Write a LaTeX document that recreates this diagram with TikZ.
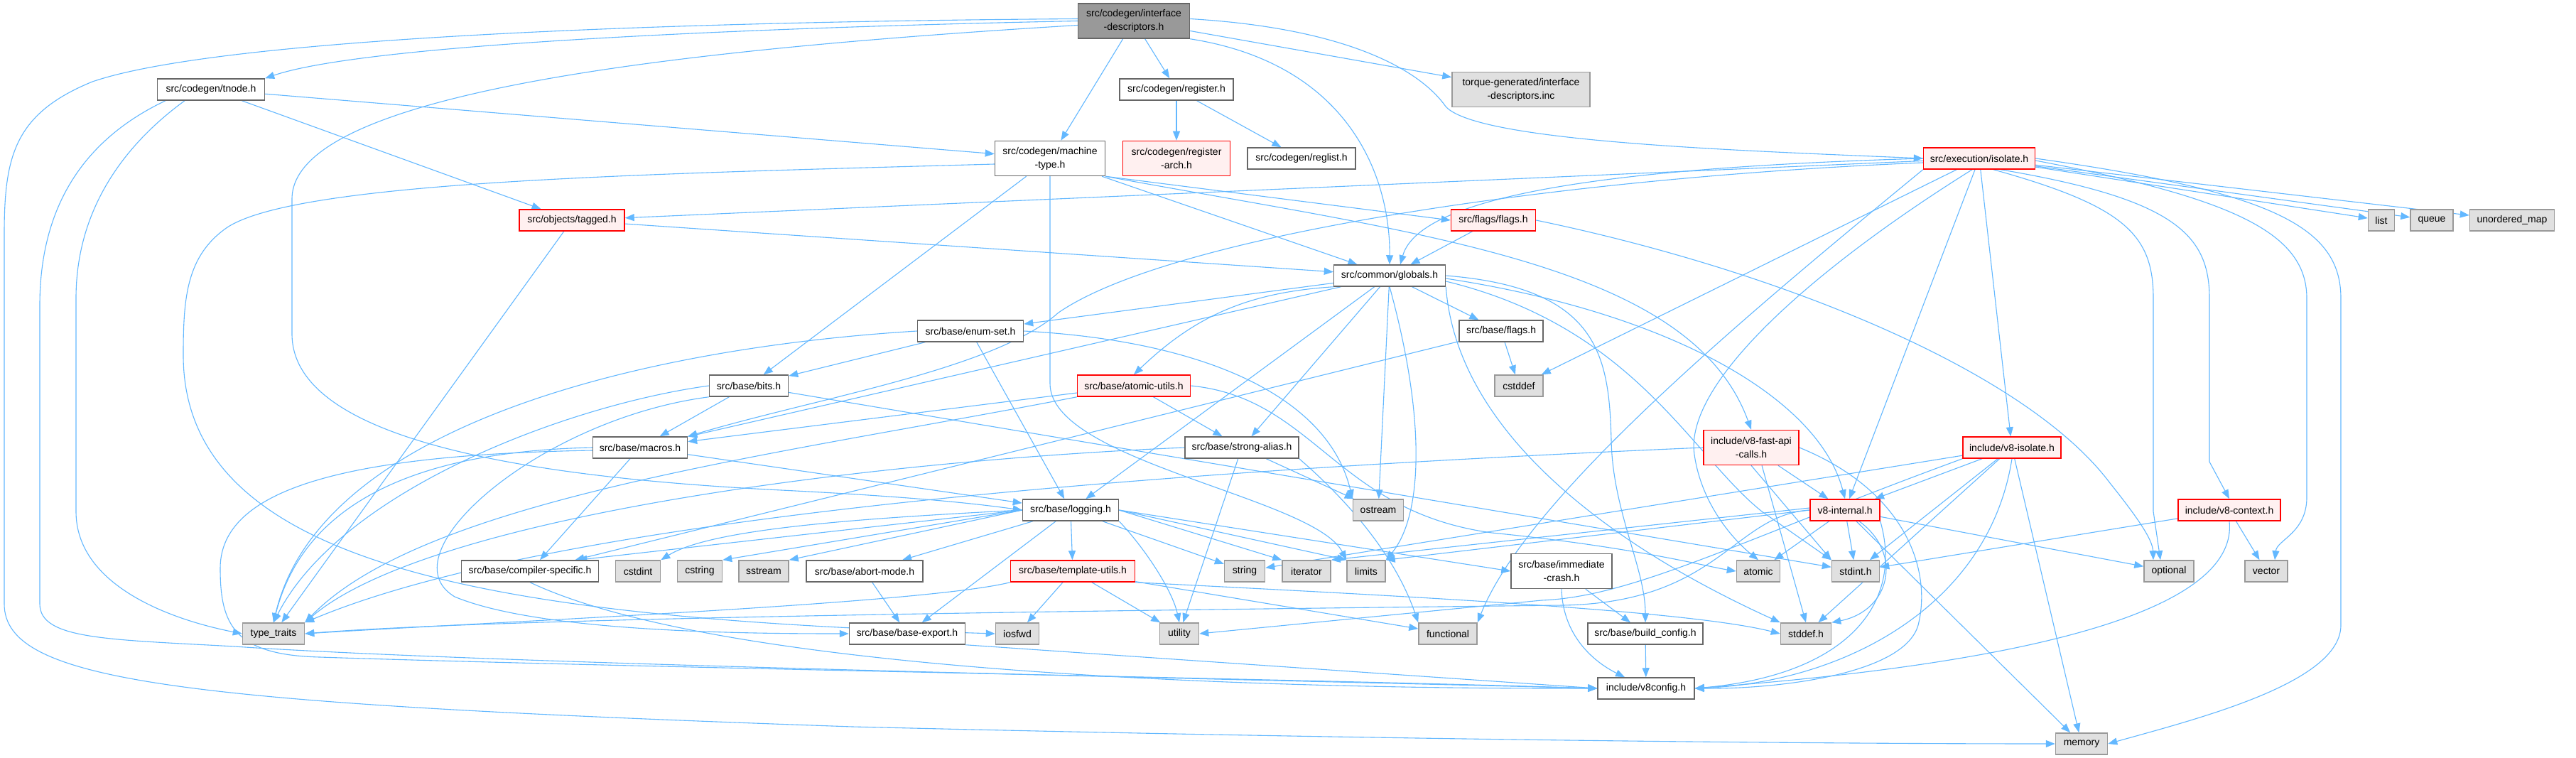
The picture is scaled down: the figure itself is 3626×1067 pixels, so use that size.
\documentclass[tikz,border=0pt]{standalone}
\usepackage{fontspec}
\setmainfont{Liberation Sans}
\usetikzlibrary{arrows.meta, backgrounds}
\definecolor{EdgeBlue}{RGB}{99,184,255}
\definecolor{RootGray}{RGB}{153,153,153}
\definecolor{BoxGray}{RGB}{102,102,102}
\definecolor{TruncFill}{RGB}{255,240,240}
\definecolor{TruncRed}{RGB}{255,0,0}
\definecolor{SysFill}{RGB}{224,224,224}
\definecolor{SysGray}{RGB}{153,153,153}
\tikzset{
  filebox/.style={rectangle, draw=BoxGray, fill=white, line width=1.5pt, inner sep=0pt,
    minimum height=30pt, align=center, font=\fontsize{14}{19}\selectfont},
  rootbox/.style={filebox, fill=RootGray},
  truncbox/.style={filebox, draw=TruncRed, fill=TruncFill},
  sysbox/.style={filebox, draw=SysGray, fill=SysFill},
  twoline/.style={minimum height=49pt},
  inc/.style={draw=EdgeBlue, line width=1.1pt, -{Triangle[length=13pt,width=10pt]}}
}

\begin{document}
\begin{tikzpicture}[x=1pt, y=-1pt]
\useasboundingbox (0,0) rectangle (3626,1067);

% files, row by row
\node[rootbox, twoline, minimum width=157] (root) at (1596,29.5) {src/codegen/interface\\-descriptors.h};
\node[filebox, minimum width=151] (tnode) at (297,126) {src/codegen/tnode.h};
\node[filebox, minimum width=160] (regh) at (1656,126) {src/codegen/register.h};
\node[sysbox, twoline, minimum width=194] (torque) at (2141,126) {torque-generated/interface\\-descriptors.inc};
\node[filebox, twoline, minimum width=155] (mtype) at (1478,223) {src/codegen/machine\\-type.h};
\node[truncbox, twoline, minimum width=151] (regarch) at (1656,223) {src/codegen/register\\-arch.h};
\node[filebox, minimum width=152] (reglist) at (1832,223) {src/codegen/reglist.h};
\node[truncbox, minimum width=157] (isolate) at (2786,223) {src/execution/isolate.h};
\node[truncbox, minimum width=148] (tagged) at (805,310) {src/objects/tagged.h};
\node[truncbox, minimum width=119] (flagsflags) at (2102,310) {src/flags/flags.h};
\node[sysbox, minimum width=37] (list) at (3352,310) {list};
\node[sysbox, minimum width=60] (queue) at (3423,310) {queue};
\node[sysbox, minimum width=119] (umap) at (3536,310) {unordered\_map};
\node[filebox, minimum width=157] (globals) at (1956,388) {src/common/globals.h};
\node[filebox, minimum width=149] (enumset) at (1366,466) {src/base/enum-set.h};
\node[filebox, minimum width=118] (baseflags) at (2113,466) {src/base/flags.h};
\node[filebox, minimum width=111] (bits) at (1054,543) {src/base/bits.h};
\node[truncbox, minimum width=159] (atomicutils) at (1596,543) {src/base/atomic-utils.h};
\node[sysbox, minimum width=68] (cstddef) at (2138,543) {cstddef};
\node[filebox, minimum width=133] (macros) at (901,630) {src/base/macros.h};
\node[filebox, minimum width=160] (strongalias) at (1748,630) {src/base/strong-alias.h};
\node[truncbox, twoline, minimum width=134] (fastapi) at (2465,630) {include/v8-fast-api\\-calls.h};
\node[truncbox, minimum width=138] (v8isolate) at (2832,630) {include/v8-isolate.h};
\node[filebox, minimum width=135] (logging) at (1507,718) {src/base/logging.h};
\node[sysbox, minimum width=71] (ostream) at (1940,718) {ostream};
\node[truncbox, minimum width=98] (v8internal) at (2597,718) {v8-internal.h};
\node[truncbox, minimum width=144] (v8context) at (3138,718) {include/v8-context.h};
\node[filebox, minimum width=193] (compspec) at (746,804) {src/base/compiler-specific.h};
\node[sysbox, minimum width=63] (cstdint) at (898,804) {cstdint};
\node[sysbox, minimum width=63] (cstring) at (985,804) {cstring};
\node[sysbox, minimum width=70] (sstream) at (1075,804) {sstream};
\node[filebox, minimum width=164] (abortmode) at (1217,804) {src/base/abort-mode.h};
\node[truncbox, minimum width=175] (templutils) at (1510,804) {src/base/template-utils.h};
\node[sysbox, minimum width=57] (string) at (1752,804) {string};
\node[sysbox, minimum width=68] (iterator) at (1839,804) {iterator};
\node[sysbox, minimum width=54] (limits) at (1923,804) {limits};
\node[filebox, twoline, minimum width=142] (immcrash) at (2198,804) {src/base/immediate\\-crash.h};
\node[sysbox, minimum width=61] (atomic) at (2475,804) {atomic};
\node[sysbox, minimum width=67] (stdint) at (2612,804) {stdint.h};
\node[sysbox, minimum width=70] (optional) at (3053,804) {optional};
\node[sysbox, minimum width=60] (vector) at (3190,804) {vector};
\node[sysbox, minimum width=87] (typetraits) at (385,892) {type\_traits};
\node[filebox, minimum width=163] (baseexport) at (1277,892) {src/base/base-export.h};
\node[sysbox, minimum width=61] (iosfwd) at (1432,892) {iosfwd};
\node[sysbox, minimum width=55] (utility) at (1660,892) {utility};
\node[sysbox, minimum width=82] (functional) at (2038,892) {functional};
\node[filebox, minimum width=162] (buildconfig) at (2316,892) {src/base/build\_config.h};
\node[sysbox, minimum width=71] (stddef) at (2542,892) {stddef.h};
\node[filebox, minimum width=136] (v8config) at (2317,969) {include/v8config.h};
\node[sysbox, minimum width=73] (memory) at (2930,1047) {memory};

\begin{scope}[on background layer]
\fill[white] (0,0) rectangle (3626,1067);
% interface-descriptors.h
\draw[inc] (root.west) .. controls (1100,38) and (520,60) .. (tnode.north east);
\draw[inc] ([yshift=3pt]root.west) .. controls (1000,30) and (320,50) .. (130,115) .. controls (20,160) and (6,220) .. (6,330) -- (6,850) .. controls (6,960) and (250,990) .. (1200,1023) .. controls (2100,1045) and (2700,1047) .. (memory.west);
\draw[inc] ([yshift=-6pt]root.west) .. controls (950,70) and (411,130) .. (411,280) -- (411,470) .. controls (411,610) and (700,670) .. (1100,690) .. controls (1300,700) and (1380,710) .. (logging.west);
\draw[inc] (root) -- (regh);
\draw[inc] (root) -- (torque);
\draw[inc] (root) -- (mtype);
\draw[inc] ([yshift=3pt]root.east) .. controls (1900,40) and (2000,100) .. (2035,150) .. controls (2080,200) and (2450,212) .. (isolate.west);
\draw[inc] (root.south east) .. controls (1900,90) and (1957,250) .. (globals.north);
% register.h, tnode.h
\draw[inc] (regh) -- (regarch);
\draw[inc] (regh) -- (reglist);
\draw[inc] (tnode) -- (mtype);
\draw[inc] (tnode) -- (tagged);
\draw[inc] ([xshift=-37pt]tnode.south) .. controls (180,200) and (107,290) .. (107,420) -- (107,720) .. controls (107,820) and (230,870) .. (typetraits.west);
\draw[inc] ([xshift=-64pt]tnode.south) .. controls (110,200) and (56,300) .. (56,430) -- (56,850) .. controls (56,900) and (150,900) .. (330,910) .. controls (700,935) and (1700,955) .. (v8config.west);
% machine-type.h
\draw[inc] (mtype) -- (bits);
\draw[inc] (mtype) -- (globals);
\draw[inc] (mtype.south east) -- (flagsflags.west);
\draw[inc] (mtype.south east) .. controls (2000,330) and (2380,370) .. (fastapi.north);
\draw[inc] ([yshift=-8pt]mtype.west) .. controls (900,245) and (420,255) .. (320,320) .. controls (262,360) and (258,420) .. (258,500) .. controls (258,800) and (700,870) .. (iosfwd.west);
\draw[inc] (mtype.south) -- (1478,540) .. controls (1478,650) and (1850,700) .. (limits.north west);
% tagged.h
\draw[inc] (tagged) -- (globals);
\draw[inc] (tagged) -- (typetraits);
% isolate.h
\draw[inc] (isolate) -- (tagged);
\draw[inc] (isolate.west) .. controls (2300,235) and (2000,270) .. ([xshift=15pt]globals.north);
\draw[inc] ([yshift=-6pt]isolate.west) .. controls (2200,250) and (1650,330) .. (1490,440) .. controls (1400,520) and (1150,560) .. (macros.north east);
\draw[inc] (isolate) -- (list);
\draw[inc] (isolate) -- (queue);
\draw[inc] (isolate) -- (umap);
\draw[inc] (isolate.east) .. controls (3200,270) and (3295,320) .. (3295,420) -- (3295,880) .. controls (3295,960) and (3100,1010) .. (memory.east);
\draw[inc] ([yshift=-3pt]isolate.east) .. controls (3150,280) and (3247,330) .. (3247,420) -- (3247,700) .. controls (3247,750) and (3205,760) .. ([xshift=12pt]vector.north);
\draw[inc] ([xshift=30pt]isolate.south) .. controls (3060,280) and (3110,330) .. (3110,420) -- (3110,650) -- (v8context.north);
\draw[inc] ([xshift=20pt]isolate.south) .. controls (2990,290) and (3031,330) .. (3031,420) -- (3031,720) -- ([xshift=-12pt]optional.north);
\draw[inc] (isolate) -- (cstddef);
\draw[inc] (isolate.south west) .. controls (2450,450) and (2150,700) .. (functional.north east);
\draw[inc] ([xshift=-10pt]isolate.south) .. controls (2550,380) and (2370,540) .. (2385,640) .. controls (2395,710) and (2440,760) .. (atomic.north);
\draw[inc] (isolate) -- (v8internal);
\draw[inc] (isolate) -- (v8isolate);
% flags/flags.h
\draw[inc] (flagsflags) -- (globals);
\draw[inc] (flagsflags.east) .. controls (2500,380) and (2850,520) .. (2970,680) .. controls (3010,730) and (3030,760) .. ([xshift=-22pt]optional.north);
% globals.h
\draw[inc] (globals) -- (enumset);
\draw[inc] (globals) -- (macros);
\draw[inc] (globals.south west) to[bend right=20] (atomicutils.north);
\draw[inc] (globals) -- (logging);
\draw[inc] (globals) -- (strongalias);
\draw[inc] (globals) -- (ostream);
\draw[inc] (globals.south) .. controls (2010,600) and (2000,730) .. (limits.north east);
\draw[inc] (globals) -- (baseflags);
\draw[inc] (globals.east) .. controls (2250,405) and (2265,500) .. (2268,620) .. controls (2270,720) and (2316,800) .. (buildconfig.north);
\draw[inc] ([yshift=-4pt]globals.east) .. controls (2350,440) and (2560,560) .. (v8internal.north);
\draw[inc] ([yshift=-8pt]globals.east) .. controls (2300,460) and (2380,640) .. (2480,720) -- (stdint.north west);
\draw[inc] (globals.south east) .. controls (2050,600) and (2250,760) .. (stddef.north west);
% enum-set.h, base/flags.h
\draw[inc] (enumset) -- (bits);
\draw[inc] (enumset.west) .. controls (900,490) and (450,600) .. (typetraits.north);
\draw[inc] (enumset) -- (logging);
\draw[inc] (enumset.east) .. controls (1700,480) and (1870,560) .. (ostream.north west);
\draw[inc] (baseflags) -- (cstddef);
\draw[inc] (baseflags) -- (compspec);
% bits.h, atomic-utils.h
\draw[inc] (bits) -- (macros);
\draw[inc] (bits.west) .. controls (800,570) and (480,690) .. (typetraits.north);
\draw[inc] (bits.south west) .. controls (760,590) and (540,780) .. (640,840) .. controls (760,890) and (1050,892) .. (baseexport.west);
\draw[inc] (bits) -- (stdint);
\draw[inc] (atomicutils) -- (macros);
\draw[inc] (atomicutils.south west) .. controls (1100,640) and (600,700) .. (typetraits.north east);
\draw[inc] (atomicutils) -- (strongalias);
\draw[inc] (atomicutils.east) .. controls (1850,560) and (1880,720) .. (2100,750) .. controls (2300,770) and (2400,797) .. (atomic.west);
% macros.h, strong-alias.h
\draw[inc] (macros) -- (compspec);
\draw[inc] (macros) -- (logging);
\draw[inc] (macros.west) .. controls (600,635) and (430,700) .. (typetraits.north);
\draw[inc] ([yshift=-4pt]macros.west) .. controls (480,640) and (310,690) .. (310,800) .. controls (310,880) and (330,922) .. (450,925) .. controls (900,940) and (1800,955) .. (v8config.west);
\draw[inc] (strongalias) -- (ostream);
\draw[inc] (strongalias.west) .. controls (1200,650) and (600,730) .. (typetraits.north east);
\draw[inc] (strongalias) -- (utility);
\draw[inc] (strongalias.south east) .. controls (1880,690) and (1960,770) .. (functional.north west);
% v8-fast-api-calls.h
\draw[inc] (fastapi.west) .. controls (1700,660) and (800,720) .. (typetraits.north east);
\draw[inc] (fastapi) -- (v8internal);
\draw[inc] (fastapi.south) -- (stdint.north west);
\draw[inc] ([xshift=15pt]fastapi.south) -- (stddef.north);
\draw[inc] (fastapi.east) .. controls (2680,690) and (2720,800) .. (2700,880) .. controls (2680,950) and (2500,970) .. (v8config.east);
% v8-isolate.h
\draw[inc] (v8isolate) -- (v8internal);
\draw[inc] (v8isolate) -- (stdint);
\draw[inc] (v8isolate) -- (stddef);
\draw[inc] (v8isolate) -- (memory);
\draw[inc] (v8isolate) -- (string);
\draw[inc] (v8isolate.south) .. controls (2800,850) and (2600,960) .. (v8config.east);
\draw[inc] (v8isolate.south west) .. controls (2450,760) and (2300,840) .. (2170,845) -- (utility.east);
% v8-internal.h
\draw[inc] (v8internal) -- (atomic);
\draw[inc] (v8internal) -- (stdint);
\draw[inc] ([xshift=20pt]v8internal.south) .. controls (2680,780) and (2660,860) .. (stddef.north east);
\draw[inc] (v8internal.west) .. controls (2440,725) and (2420,848) .. (2200,852) .. controls (1500,860) and (700,870) .. (typetraits.east);
\draw[inc] (v8internal) -- (memory);
\draw[inc] (v8internal) -- (optional);
\draw[inc] (v8internal.south east) .. controls (2680,850) and (2600,950) .. (v8config.east);
\draw[inc] ([yshift=3pt]v8internal.west) -- (iterator.north east);
\draw[inc] (v8internal.west) -- (limits.north east);
% v8-context.h
\draw[inc] (v8context) -- (stdint);
\draw[inc] (v8context) -- (vector);
\draw[inc] (v8context.south) .. controls (3150,850) and (2900,930) .. (v8config.east);
% logging.h
\draw[inc] (logging.west) -- ([xshift=-30pt]compspec.north east);
\draw[inc] (logging.west) .. controls (1200,730) and (1000,745) .. (cstdint.north east);
\draw[inc] (logging.west) -- (cstring.north east);
\draw[inc] (logging.west) -- (sstream.north east);
\draw[inc] (logging) -- (abortmode);
\draw[inc] (logging) -- (templutils);
\draw[inc] (logging) -- (baseexport);
\draw[inc] (logging.south east) .. controls (1610,770) and (1650,830) .. (utility.north);
\draw[inc] (logging) -- (string);
\draw[inc] (logging.east) -- (iterator.north west);
\draw[inc] (logging.east) -- (limits.north west);
\draw[inc] (logging.east) -- (immcrash.west);
% template-utils.h
\draw[inc] (templutils) -- (iosfwd);
\draw[inc] (templutils) -- (utility);
\draw[inc] (templutils) -- (functional);
\draw[inc] (templutils.south west) .. controls (1300,850) and (700,875) .. (typetraits.east);
\draw[inc] (templutils.south east) .. controls (2000,840) and (2380,860) .. (stddef.west);
% the rest
\draw[inc] (abortmode) -- (baseexport);
\draw[inc] (baseexport.south east) -- (v8config.west);
\draw[inc] (compspec.south) .. controls (1000,940) and (1700,970) .. (v8config.west);
\draw[inc] (immcrash) -- (buildconfig);
\draw[inc] (immcrash.south) .. controls (2200,900) and (2250,935) .. ([xshift=-30pt]v8config.north);
\draw[inc] (buildconfig) -- (v8config);
\end{scope}
\end{tikzpicture}
\end{document}
